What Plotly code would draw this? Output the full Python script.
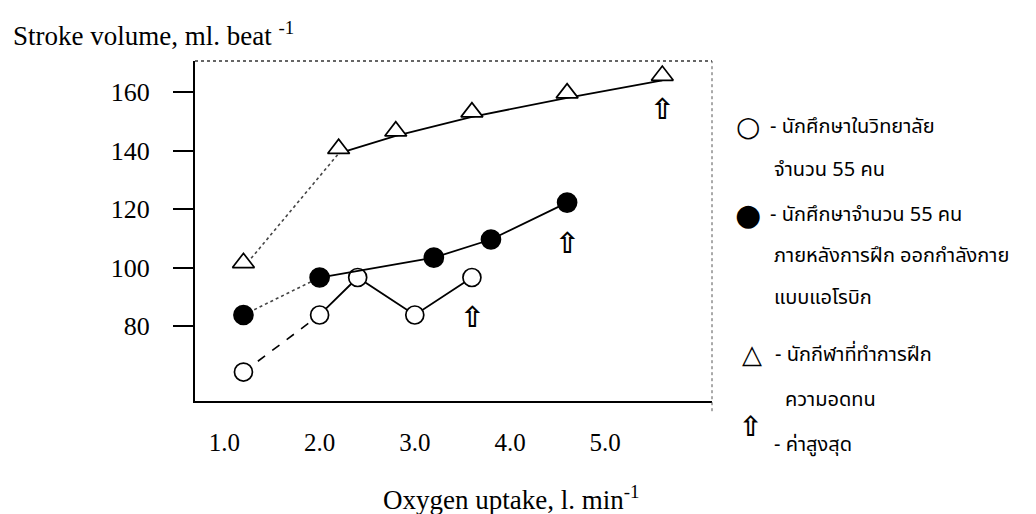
import plotly.graph_objects as go

# ---------------- data ----------------
x_students = [1.2, 2.0, 2.4, 3.0, 3.6]
y_students = [64.3, 83.8, 96.6, 83.8, 96.6]

x_after = [1.2, 2.0, 3.2, 3.8, 4.6]
y_after = [83.8, 96.6, 103.4, 109.6, 122.2]

x_athletes = [1.2, 2.2, 2.8, 3.6, 4.6, 5.6]
y_athletes = [100.0, 139.0, 145.0, 151.5, 158.0, 164.0]

x_tick_vals = [1.0, 2.0, 3.0, 4.0, 5.0]
x_tick_text = ["1.0", "2.0", "3.0", "4.0", "5.0"]
y_tick_vals = [80, 100, 120, 140, 160]
y_tick_text = ["80", "100", "120", "140", "160"]

y_title = "Stroke volume, ml. beat <sup>-1</sup>"
x_title = "Oxygen uptake, l. min<sup>-1</sup>"

legend_symbols = ["○", "●", "△", "⇧"]
legend_texts = [
    ["- นักศึกษาในวิทยาลัย", "จำนวน 55 คน"],
    ["- นักศึกษาจำนวน 55 คน", "ภายหลังการฝึก ออกกำลังกาย", "แบบแอโรบิก"],
    ["- นักกีฬาที่ทำการฝึก", "ความอดทน"],
    ["- ค่าสูงสุด"],
]

# ---------------- geometry ----------------
W, H = 1036, 514
L, R, T, B = 195, 712, 61, 401
PW, PH = R - L, B - T


def px(xp):
    return (xp - L) / PW


def py(yp):
    return (B - yp) / PH


SERIF = "Liberation Serif, Times New Roman, serif"
THAI = "Noto Sans Thai, Loma, Garuda, Norasi, Tlwg Typo, Noto Sans, sans-serif"
SYM = "DejaVu Sans, sans-serif"

fig = go.Figure()

series = [
    dict(x=x_students, y=y_students, first="dash", sym="circle", fill="white",
         size=18, angle=0, standoff=0, arrow_shift=-39),
    dict(x=x_after, y=y_after, first="dot", sym="circle", fill="black",
         size=19, angle=0, standoff=0, arrow_shift=-40),
    # triangle drawn pointing up with its base on the data point
    dict(x=x_athletes, y=y_athletes, first="dot", sym="triangle-down", fill="white",
         size=19, angle=180, standoff=4.75, arrow_shift=-29),
]

for s in series:
    fig.add_trace(go.Scatter(
        x=s["x"][:2], y=s["y"][:2], mode="lines",
        line=dict(color="#444444" if s["first"] == "dot" else "black",
                  width=1.6, dash=s["first"]),
        hoverinfo="skip", showlegend=False))
    fig.add_trace(go.Scatter(
        x=s["x"][1:], y=s["y"][1:], mode="lines",
        line=dict(color="black", width=1.8),
        hoverinfo="skip", showlegend=False))
    fig.add_trace(go.Scatter(
        x=s["x"], y=s["y"], mode="markers",
        marker=dict(symbol=s["sym"], size=s["size"], color=s["fill"],
                    angle=s["angle"], standoff=s["standoff"],
                    line=dict(color="black", width=1.7)),
        hoverinfo="skip", showlegend=False))

annotations = []
for s in series:
    annotations.append(dict(
        x=s["x"][-1], y=s["y"][-1], xref="x", yref="y",
        text="<b>⇧</b>", showarrow=False, yshift=s["arrow_shift"],
        font=dict(family=SYM, size=29, color="black")))

annotations.append(dict(x=px(11), y=py(34), xref="paper", yref="paper",
                        xanchor="left", yanchor="middle", showarrow=False,
                        text=y_title, font=dict(family=SERIF, size=27, color="black")))
annotations.append(dict(x=px(511), y=py(498), xref="paper", yref="paper",
                        xanchor="center", yanchor="middle", showarrow=False,
                        text=x_title, font=dict(family=SERIF, size=27, color="black")))

sym_pos = [(748, 127), (748, 215), (752, 354), (750, 426)]
sym_size = [28, 30, 26, 28]
line_pos = [
    [(768, 127), (772, 170)],
    [(768, 215), (772, 256), (772, 298)],
    [(773, 355), (783, 400)],
    [(772, 445)],
]
for i, (sym, (sx, sy), ss, texts, poss) in enumerate(
        zip(legend_symbols, sym_pos, sym_size, legend_texts, line_pos)):
    annotations.append(dict(x=px(sx), y=py(sy), xref="paper", yref="paper",
                            xanchor="center", yanchor="middle", showarrow=False,
                            text=sym if i < 3 else "<b>" + sym + "</b>",
                            font=dict(family=SYM, size=ss, color="black")))
    for t, (tx, ty) in zip(texts, poss):
        annotations.append(dict(x=px(tx), y=py(ty), xref="paper", yref="paper",
                                xanchor="left", yanchor="middle", showarrow=False,
                                text=t, font=dict(family=THAI, size=20, color="black")))

shapes = [
    dict(type="line", xref="paper", yref="paper", x0=0, x1=1, y0=1, y1=1,
         line=dict(color="#333333", width=1.5, dash="dot")),
    dict(type="line", xref="paper", yref="paper", x0=1, x1=1, y0=-0.03, y1=1,
         line=dict(color="#555555", width=1, dash="dot")),
]

fig.update_layout(
    width=W, height=H,
    margin=dict(l=L, r=W - R, t=T, b=H - B, pad=0),
    paper_bgcolor="white", plot_bgcolor="white",
    showlegend=False,
    annotations=annotations,
    shapes=shapes,
    xaxis=dict(range=[0.691, 6.122], showgrid=False, zeroline=False,
               showline=True, linecolor="black", linewidth=2,
               ticks="", tickvals=x_tick_vals, ticktext=x_tick_text,
               ticklabelstandoff=18,
               tickfont=dict(family=SERIF, size=25, color="black")),
    yaxis=dict(range=[54.4, 170.6], showgrid=False, zeroline=False,
               showline=True, linecolor="black", linewidth=2,
               ticks="outside", ticklen=20, tickwidth=2, tickcolor="black",
               tickvals=y_tick_vals, ticktext=y_tick_text,
               ticklabelstandoff=18,
               tickfont=dict(family=SERIF, size=26, color="black")),
)

fig.write_html("out.html")
